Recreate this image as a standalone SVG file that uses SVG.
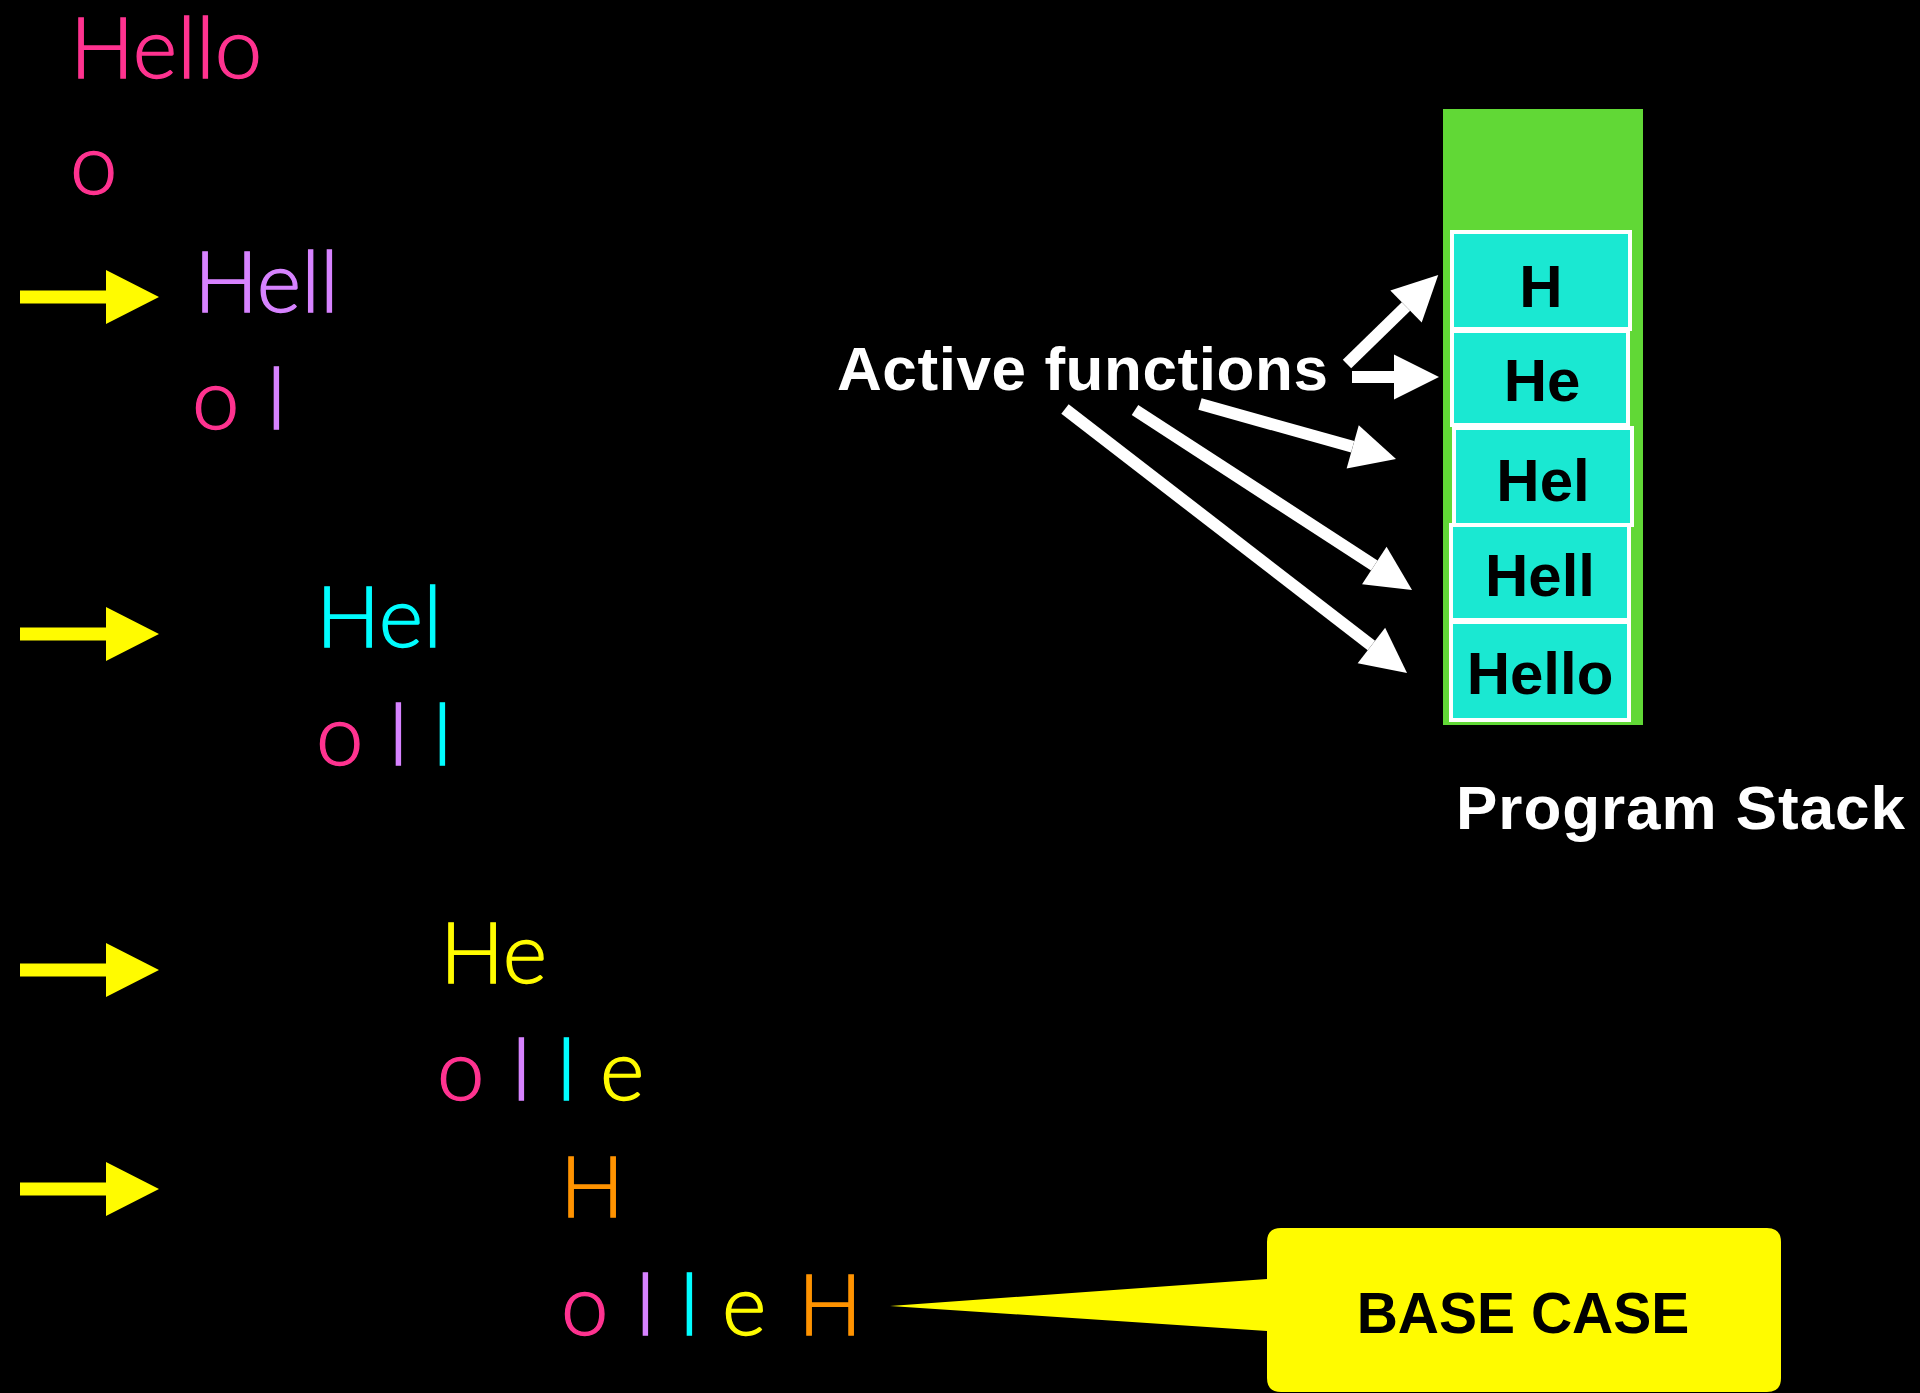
<svg xmlns="http://www.w3.org/2000/svg" xmlns:xlink="http://www.w3.org/1999/xlink" width="1920" height="1393" viewBox="0 0 1920 1393">
  <style>
    .thin { font-family: Lato, "Open Sans", "Noto Sans", sans-serif; font-weight: 300; font-size: 85px; stroke-width: 1.3px; }
    .pink { fill: #FF3390; stroke: #FF3390; }
    .purple { fill: #D783FF; stroke: #D783FF; }
    .cyan { fill: #00FDFF; stroke: #00FDFF; }
    .yellow { fill: #FFFB00; stroke: #FFFB00; }
    .orange { fill: #FF9300; stroke: #FF9300; }
    .bold { font-family: "Liberation Sans", Arial, sans-serif; font-weight: bold; }
    .label { fill: #FFFFFF; font-size: 62px; }
    .frame-text { fill: #000000; font-size: 60px; text-anchor: middle; }
    .frame { fill: #1AE8D2; stroke: #FFFFFF; stroke-width: 4; }
    .pointer { stroke: #FFFFFF; stroke-width: 12; fill: none; marker-end: url(#head); }
  </style>
  <defs>
    <marker id="head" markerUnits="userSpaceOnUse" markerWidth="46" markerHeight="46" refX="0" refY="22.5" orient="auto" overflow="visible">
      <path d="M0,0 L45,22.5 L0,45 Z" fill="#FFFFFF"/>
    </marker>
    <polygon id="call-arrow" points="20,-6.5 106,-6.5 106,-27 159,0 106,27 106,6.5 20,6.5" fill="#FFFB00"/>
  </defs>

  <rect x="0" y="0" width="1920" height="1393" fill="#000000"/>

  <!-- recursion trace -->
  <g id="trace">
    <g id="level-hello">
      <text class="thin pink" x="70" y="78">Hello</text>
      <text class="thin pink" x="70" y="194">o</text>
    </g>
    <g id="level-hell">
      <use xlink:href="#call-arrow" y="297"/>
      <text class="thin purple" x="194" y="312">Hell</text>
      <text class="thin" y="429"><tspan class="pink" x="192">o</tspan><tspan class="purple" x="267">l</tspan></text>
    </g>
    <g id="level-hel">
      <use xlink:href="#call-arrow" y="634"/>
      <text class="thin cyan" x="316" y="647">Hel</text>
      <text class="thin" y="765"><tspan class="pink" x="316">o</tspan><tspan class="purple" x="389">l</tspan><tspan class="cyan" x="433">l</tspan></text>
    </g>
    <g id="level-he">
      <use xlink:href="#call-arrow" y="970"/>
      <text class="thin yellow" x="440" y="983">He</text>
      <text class="thin" y="1100"><tspan class="pink" x="437">o</tspan><tspan class="purple" x="512">l</tspan><tspan class="cyan" x="557">l</tspan><tspan class="yellow" x="600">e</tspan></text>
    </g>
    <g id="level-h">
      <use xlink:href="#call-arrow" y="1189"/>
      <text class="thin orange" x="560" y="1217">H</text>
      <text class="thin" y="1335"><tspan class="pink" x="561">o</tspan><tspan class="purple" x="636">l</tspan><tspan class="cyan" x="680">l</tspan><tspan class="yellow" x="722">e</tspan><tspan class="orange" x="798">H</tspan></text>
    </g>
  </g>

  <!-- program stack -->
  <g id="stack">
    <rect x="1443" y="109" width="200" height="616" fill="#61D836"/>
    <g id="frame-h">
      <rect class="frame" x="1452" y="232" width="178" height="97"/>
      <text class="bold frame-text" x="1541" y="307">H</text>
    </g>
    <g id="frame-he">
      <rect class="frame" x="1452" y="331" width="176" height="94"/>
      <text class="bold frame-text" x="1542" y="401">He</text>
    </g>
    <g id="frame-hel">
      <rect class="frame" x="1454" y="428" width="178" height="97"/>
      <text class="bold frame-text" x="1543" y="501">Hel</text>
    </g>
    <g id="frame-hell">
      <rect class="frame" x="1451" y="525" width="178" height="95"/>
      <text class="bold frame-text" x="1540" y="596">Hell</text>
    </g>
    <g id="frame-hello">
      <rect class="frame" x="1451" y="622" width="178" height="98"/>
      <text class="bold frame-text" x="1540" y="694">Hello</text>
    </g>
    <text id="stack-title" class="bold label" x="1456" y="829" font-size="63" textLength="449">Program Stack</text>
  </g>

  <!-- active functions label -->
  <g id="active-label">
    <text class="bold label" x="837" y="390" textLength="491">Active functions</text>
  </g>

  <!-- pointers from label to frames -->
  <g id="connectors">
    <line class="pointer" x1="1347" y1="364" x2="1406" y2="306.5"/>
    <line class="pointer" x1="1352" y1="377" x2="1394" y2="377"/>
    <line class="pointer" x1="1200" y1="404" x2="1352.7" y2="446.8"/>
    <line class="pointer" x1="1135" y1="410" x2="1374.3" y2="565.5"/>
    <line class="pointer" x1="1065" y1="409" x2="1371.4" y2="645.5"/>
  </g>

  <!-- base case callout -->
  <g id="base-case">
    <path d="M1281,1228 H1767 Q1781,1228 1781,1242 V1378 Q1781,1392 1767,1392 H1281 Q1267,1392 1267,1378 V1331 L890,1306 L1267,1279 V1242 Q1267,1228 1281,1228 Z" fill="#FFFB00"/>
    <text class="bold" x="1523" y="1333" font-size="57" text-anchor="middle" fill="#000000">BASE CASE</text>
  </g>
</svg>
